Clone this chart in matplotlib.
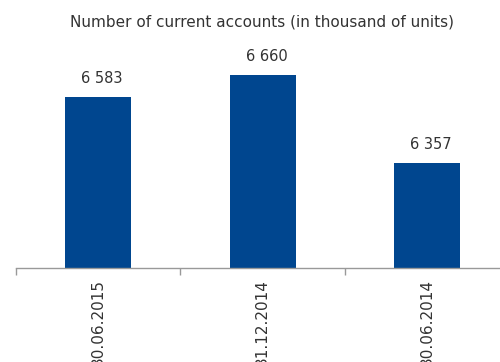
import matplotlib
matplotlib.use("Agg")
import numpy as np
import matplotlib.pyplot as plt

dates = ["30.06.2015", "31.12.2014", "30.06.2014"]
accounts = [6583, 6660, 6357]
value_labels = ["6 583", "6 660", "6 357"]

BLUE = "#00468f"
TEXT = "#333333"

plt.rcParams["font.family"] = ["DejaVu Sans"]

fig = plt.figure(figsize=(5.0, 3.62), dpi=100)
# axes spans past the right edge so the last category is cut like the source
ax = fig.add_axes([16 / 500, 1 - 267.5 / 362, 493.5 / 500, 227.5 / 362])

x = np.arange(len(dates))
ax.bar(x, accounts, width=0.4, color=BLUE, zorder=2)

for xi, v, lab in zip(x, accounts, value_labels):
    ax.annotate(lab, (xi, v), xytext=(4, 14), textcoords="offset pixels",
                ha="center", va="baseline", fontsize=10.5, color=TEXT)

ax.set_xlim(-0.5, len(dates) - 0.5)
ax.set_ylim(6000, 6780)

for side in ("top", "right", "left"):
    ax.spines[side].set_visible(False)
ax.spines["bottom"].set_color("#999999")
ax.spines["bottom"].set_linewidth(1.0)
ax.set_yticks([])

ax.set_xticks(x)
ax.set_xticklabels(dates, rotation=90, fontsize=11, color=TEXT)
ax.tick_params(axis="x", which="major", length=0, pad=8.5)
ax.set_xticks(np.arange(len(dates)) - 0.5, minor=True)
ax.tick_params(axis="x", which="minor", length=5, color="#999999", width=1.0)

fig.text(262 / 500, 1 - 22 / 362, "Number of current accounts (in thousand of units)",
         ha="center", va="center", fontsize=11, color=TEXT)

fig.savefig("out.png", dpi=100)
